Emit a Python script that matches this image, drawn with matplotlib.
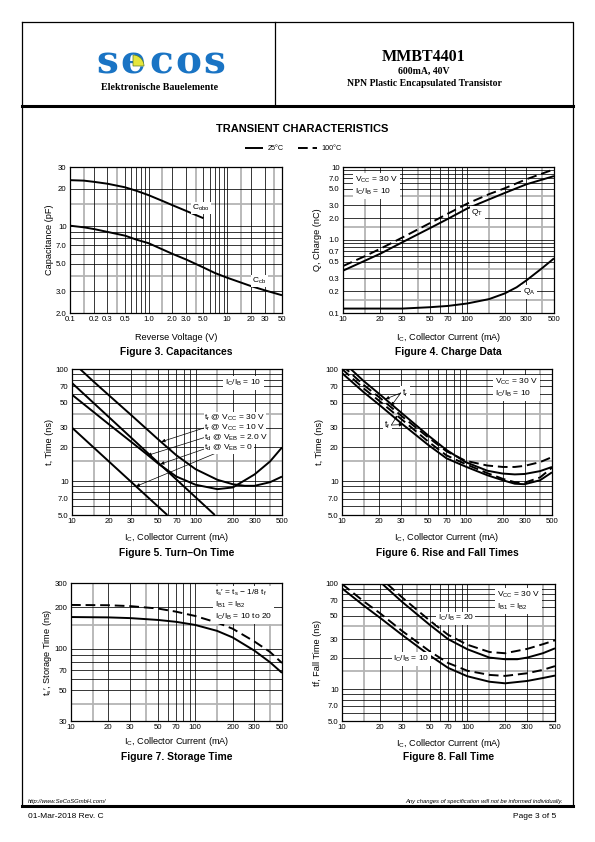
import numpy as np
import matplotlib
matplotlib.use('Agg')
import matplotlib.pyplot as plt
from matplotlib.patches import Wedge
from matplotlib.ticker import FixedLocator, FixedFormatter, NullLocator

plt.rcParams['font.family'] = ['Liberation Sans', 'DejaVu Sans']
plt.rcParams['mathtext.default'] = 'regular'

# Figure 3 - capacitances
v_cobo = [0.1, 0.15, 0.2, 0.3, 0.5, 0.7, 1.0, 1.5, 2.0, 3.0, 5.0]
c_cobo = [23.5, 23.3, 22.8, 22.0, 20.6, 19.3, 17.8, 16.0, 14.8, 13.3, 11.6]
v_ccb = [0.1, 0.15, 0.2, 0.3, 0.5, 0.7, 1.0, 2.0, 3.0, 5.0, 7.0, 10, 20, 30, 50]
c_ccb = [10.1, 9.8, 9.5, 9.0, 8.4, 7.8, 7.3, 6.0, 5.4, 4.65, 4.2, 3.85, 3.3, 3.05, 2.78]

# Figure 4 - charge data
ic_qt = [10, 15, 20, 30, 50, 70, 100, 150, 200, 300, 500]
qt_25 = [0.38, 0.52, 0.65, 0.93, 1.45, 1.95, 2.7, 3.6, 4.4, 5.8, 7.5]
qt_100 = [0.44, 0.6, 0.76, 1.08, 1.7, 2.3, 3.15, 4.25, 5.1, 6.8, 9.3]
ic_qa = [10, 20, 30, 50, 70, 100, 150, 200, 250, 300, 400, 500]
qa_25 = [0.115, 0.115, 0.115, 0.12, 0.125, 0.135, 0.155, 0.185, 0.225, 0.28, 0.41, 0.56]

# Figure 5 - turn-on time
ic_tr30 = [11.6, 15, 20, 30, 50, 70, 100, 150, 200, 250, 300, 400, 500]
tr_30v = [100, 77, 58, 39, 23.5, 17, 12.8, 10.3, 9.4, 9.1, 9.1, 9.8, 11]
ic_tr10 = [10, 20, 30, 40, 50, 70, 100, 150, 200, 300, 400, 500]
tr_10v = [59, 32, 22.5, 17.5, 14.3, 11, 9.3, 8.5, 8.8, 11.5, 15, 20]
ic_td2 = [10, 143]
td_2v = [75, 5]
ic_td0 = [10, 59]
td_0v = [30, 5]

# Figure 6 - rise and fall times
ic_rf = [10, 15, 20, 30, 50, 70, 100, 150, 200, 250, 300, 400, 500]
tr_25 = [118, 78, 60, 41, 25.5, 19, 14.8, 12.4, 11.7, 11.5, 11.6, 12.3, 13.4]
tr_100 = [108, 72, 56, 38.5, 24.5, 18.5, 15.2, 13.8, 13.4, 13.4, 13.7, 14.8, 16.4]
tf_100 = [100, 67, 52, 36, 22.5, 17, 14.2, 11.8, 10.5, 9.8, 9.7, 10.8, 13.2]
tf_25 = [92, 62, 48, 33, 21, 16, 13.5, 11.3, 10.2, 9.5, 9.4, 10.2, 12.0]

# Figure 7 - storage time
ic_ts = [10, 20, 30, 50, 70, 100, 150, 200, 300, 400, 500]
ts_25 = [170, 169, 167, 162, 157, 149, 135, 121, 97, 80, 67]
ts_100 = [208, 207, 204, 196, 186, 173, 155, 140, 113, 95, 79]

# Figure 8 - fall time
ic_f10 = [10, 15, 20, 30, 50, 70, 100, 150, 200, 300, 400, 500]
tf10_25 = [91, 62, 48, 33, 21, 16, 13.3, 11.8, 11.4, 12.0, 12.8, 13.5]
tf10_100 = [100, 68, 53, 36, 23, 17.8, 15.0, 13.7, 13.4, 14.2, 15.3, 16.6]
ic_f20_25 = [21, 30, 50, 70, 100, 150, 200, 250, 300, 400, 500]
tf20_25 = [100, 68, 41, 30, 24, 20, 19.3, 19.3, 20, 22, 24.5]
ic_f20_100 = [23, 30, 50, 70, 100, 150, 200, 300, 400, 500]
tf20_100 = [100, 75, 45, 33, 26.5, 22.6, 22, 24.2, 26.8, 29.2]

ic_ticks = [10, 20, 30, 50, 70, 100, 200, 300, 500]
ic_labels = ['10', '20', '30', '50', '70', '100', '200', '300', '500']
t_ticks = [5, 7, 10, 20, 30, 50, 70, 100]
t_labels = ['5.0', '7.0', '10', '20', '30', '50', '70', '100']

W, H = 595, 842
SOLID = dict(color='black', lw=1.4, solid_capstyle='butt')
DASH = dict(color='black', lw=1.4, ls=(0, (5, 2.5)))

fig = plt.figure(figsize=(W / 100, H / 100), dpi=100)
bg = fig.add_axes([0, 0, 1, 1])
bg.set_xlim(0, W)
bg.set_ylim(H, 0)
bg.axis('off')


def add_panel(x0, y0, x1, y1):
    return fig.add_axes([x0 / W, 1 - y1 / H, (x1 - x0) / W, (y1 - y0) / H])


def style_panel(ax, xlim, ylim, xticks, xlabels, yticks, ylabels):
    ax.set_xscale('log')
    ax.set_yscale('log')
    ax.set_xlim(*xlim)
    ax.set_ylim(*ylim)
    for (lo, hi), vline in ((xlim, True), (ylim, False)):
        line = ax.axvline if vline else ax.axhline
        for d in range(int(np.floor(np.log10(lo))), int(np.ceil(np.log10(hi))) + 1):
            for m in [1, 2, 3, 5, 6, 7, 8, 9]:
                v = m * 10.0 ** d
                if lo < v < hi:
                    line(v, color='black', lw=0.55, zorder=1)
            for m in [1.5, 4]:
                v = m * 10.0 ** d
                if lo < v < hi:
                    line(v, color='#b4b4b4', lw=1.3, zorder=0.9)
    ax.xaxis.set_major_locator(FixedLocator(xticks))
    ax.xaxis.set_major_formatter(FixedFormatter(xlabels))
    ax.yaxis.set_major_locator(FixedLocator(yticks))
    ax.yaxis.set_major_formatter(FixedFormatter(ylabels))
    ax.xaxis.set_minor_locator(NullLocator())
    ax.yaxis.set_minor_locator(NullLocator())
    ax.tick_params(length=0, labelsize=5.6, pad=2.5)
    for s in ax.spines.values():
        s.set_linewidth(0.9)


def labels(ax, ylabel, xlabel, caption, ylab_x, xlab_y, cap_y):
    pos = ax.get_position()
    cx = (pos.x0 + pos.x1) / 2 * W
    cy = (1 - (pos.y0 + pos.y1) / 2) * H
    bg.text(ylab_x, cy, ylabel, rotation=90, ha='center', va='center', fontsize=6.6)
    bg.text(cx, xlab_y, xlabel, ha='center', va='center', fontsize=6.6)
    bg.text(cx, cap_y, caption, ha='center', va='center', fontsize=7.4, fontweight='bold')


def box(ax, x, y, text):
    ax.text(x, y, text, transform=ax.transAxes, ha='left', va='top', fontsize=6,
            linespacing=1.25, zorder=5,
            bbox=dict(fc='white', ec='none', pad=1.5))


# ---- page frame ----
bg.plot([22, 573, 573, 22, 22], [22, 22, 806, 806, 22], color='black', lw=0.9)
bg.plot([22, 573], [106, 106], color='black', lw=2.2)
bg.plot([22, 573], [806, 806], color='black', lw=2.2)
bg.plot([275, 275], [22, 106], color='black', lw=0.9)

# logo, one letter at a time
for ch, lx in zip('secos', [107, 133, 161, 188, 214]):
    bg.text(lx, 74, ch, ha='center', va='baseline', fontsize=28, fontweight='bold',
            family='DejaVu Serif', color='#1a74c4')
bg.add_patch(Wedge((133, 66), 11, 270, 360, fc='#e6e63c', ec='#5a7a2a', lw=0.5, zorder=5))
bg.text(160, 87, 'Elektronische Bauelemente', ha='center', va='center', fontsize=7.2,
        fontweight='bold', family='Liberation Serif')

bg.text(424, 57, 'MMBT4401', ha='center', va='center', fontsize=11.5, fontweight='bold',
        family='Liberation Serif')
bg.text(424, 71, '600mA, 40V', ha='center', va='center', fontsize=7, fontweight='bold',
        family='Liberation Serif')
bg.text(424, 84, 'NPN Plastic Encapsulated Transistor', ha='center', va='center', fontsize=7,
        fontweight='bold', family='Liberation Serif')

bg.text(302, 129, 'TRANSIENT CHARACTERISTICS', ha='center', va='center', fontsize=8,
        fontweight='bold')
bg.plot([245, 263], [148, 148], **SOLID)
bg.text(268, 148, '25°C', ha='left', va='center', fontsize=5.2)
bg.plot([298, 317], [148, 148], **DASH)
bg.text(321, 148, '100°C', ha='left', va='center', fontsize=5.2)

# footer
bg.text(28, 802, 'http://www.SeCoSGmbH.com/', ha='left', va='center', fontsize=4.2, style='italic')
bg.text(563, 802, 'Any changes of specification will not be informed individually.', ha='right',
        va='center', fontsize=4.2, style='italic')
bg.text(28, 817, '01-Mar-2018 Rev. C', ha='left', va='center', fontsize=6)
bg.text(556, 817, 'Page 3 of 5', ha='right', va='center', fontsize=6)

# ---- Figure 3 ----
ax3 = add_panel(70, 167, 282, 313)
style_panel(ax3, (0.1, 50), (2, 30),
            [0.1, 0.2, 0.3, 0.5, 1, 2, 3, 5, 10, 20, 30, 50],
            ['0.1', '0.2', '0.3', '0.5', '1.0', '2.0', '3.0', '5.0', '10', '20', '30', '50'],
            [2, 3, 5, 7, 10, 20, 30], ['2.0', '3.0', '5.0', '7.0', '10', '20', '30'])
ax3.plot(v_cobo, c_cobo, zorder=3, **SOLID)
ax3.plot(v_ccb, c_ccb, zorder=3, **SOLID)
ax3.text(3.6, 14, 'C$_{obo}$', fontsize=6, ha='left', va='center', zorder=5,
         bbox=dict(fc='white', ec='none', pad=0.8))
ax3.text(21, 3.6, 'C$_{cb}$', fontsize=6, ha='left', va='center', zorder=5,
         bbox=dict(fc='white', ec='none', pad=0.8))
labels(ax3, 'Capacitance (pF)', 'Reverse Voltage (V)', 'Figure 3. Capacitances', 49, 337, 352)

# ---- Figure 4 ----
ax4 = add_panel(343, 167, 554, 313)
style_panel(ax4, (10, 500), (0.1, 10), ic_ticks, ic_labels,
            [0.1, 0.2, 0.3, 0.5, 0.7, 1, 2, 3, 5, 7, 10],
            ['0.1', '0.2', '0.3', '0.5', '0.7', '1.0', '2.0', '3.0', '5.0', '7.0', '10'])
ax4.plot(ic_qt, qt_25, zorder=3, **SOLID)
ax4.plot(ic_qt, qt_100, zorder=3, **DASH)
ax4.plot(ic_qa, qa_25, zorder=3, **SOLID)
ax4.text(108, 2.35, 'Q$_T$', fontsize=6, ha='left', va='center', zorder=5,
         bbox=dict(fc='white', ec='none', pad=1.2))
ax4.text(280, 0.194, 'Q$_A$', fontsize=6, ha='left', va='center', zorder=5,
         bbox=dict(fc='white', ec='none', pad=1.2))
box(ax4, 0.057, 0.945, 'V$_{CC}$ = 30 V\nI$_C$/I$_B$ = 10')
labels(ax4, 'Q, Charge (nC)', 'I$_C$, Collector Current (mA)', 'Figure 4. Charge Data', 318, 337, 352)

# ---- Figure 5 ----
ax5 = add_panel(72, 369, 282, 515)
style_panel(ax5, (10, 500), (5, 100), ic_ticks, ic_labels, t_ticks, t_labels)
ax5.plot(ic_tr30, tr_30v, zorder=3, **SOLID)
ax5.plot(ic_tr10, tr_10v, zorder=3, **SOLID)
ax5.plot(ic_td2, td_2v, zorder=3, **SOLID)
ax5.plot(ic_td0, td_0v, zorder=3, **SOLID)
box(ax5, 0.73, 0.94, 'I$_C$/I$_B$ = 10')
arrow_tips = [(53, 22.5), (41, 17), (52, 14.2), (33, 9.0)]
arrow_text = ['t$_r$ @ V$_{CC}$ = 30 V', 't$_r$ @ V$_{CC}$ = 10 V',
              't$_d$ @ V$_{EB}$ = 2.0 V', 't$_d$ @ V$_{EB}$ = 0']
for i, (tip, txt) in enumerate(zip(arrow_tips, arrow_text)):
    ax5.annotate(txt, xy=tip, xytext=(0.63, 0.664 - i * 0.068), textcoords='axes fraction',
                 ha='left', va='center', fontsize=6, zorder=5,
                 bbox=dict(fc='white', ec='none', pad=0.5),
                 arrowprops=dict(arrowstyle='-|>', lw=0.5, color='black',
                                 mutation_scale=5, shrinkA=0, shrinkB=0))
labels(ax5, 't, Time (ns)', 'I$_C$, Collector Current (mA)', 'Figure 5. Turn\u2013On Time', 50, 538, 553)

# ---- Figure 6 ----
ax6 = add_panel(342, 369, 552, 515)
style_panel(ax6, (10, 500), (5, 100), ic_ticks, ic_labels, t_ticks, t_labels)
ax6.plot(ic_rf, tr_25, zorder=3, **SOLID)
ax6.plot(ic_rf, tr_100, zorder=3, **DASH)
ax6.plot(ic_rf, tf_100, zorder=3, **DASH)
ax6.plot(ic_rf, tf_25, zorder=3, **SOLID)
box(ax6, 0.729, 0.945, 'V$_{CC}$ = 30 V\nI$_C$/I$_B$ = 10')
ax6.text(0.285, 0.836, 't$_r$', transform=ax6.transAxes, fontsize=6.5, ha='left', va='center',
         zorder=5, bbox=dict(fc='white', ec='none', pad=1))
ax6.text(0.2, 0.616, 't$_f$', transform=ax6.transAxes, fontsize=6.5, ha='left', va='center',
         zorder=5, bbox=dict(fc='white', ec='none', pad=1))
for tip in [(22.5, 54), (25, 47)]:
    ax6.annotate('', xy=tip, xytext=(0.28, 0.836), textcoords='axes fraction',
                 arrowprops=dict(arrowstyle='-|>', lw=0.5, color='black',
                                 mutation_scale=5, shrinkA=0, shrinkB=0), zorder=5)
for tip in [(28, 38.5), (31, 32)]:
    ax6.annotate('', xy=tip, xytext=(0.235, 0.616), textcoords='axes fraction',
                 arrowprops=dict(arrowstyle='-|>', lw=0.5, color='black',
                                 mutation_scale=5, shrinkA=0, shrinkB=0), zorder=5)
labels(ax6, 't, Time (ns)', 'I$_C$, Collector Current (mA)', 'Figure 6. Rise and Fall Times', 320, 538, 553)

# ---- Figure 7 ----
ax7 = add_panel(71, 583, 282, 721)
style_panel(ax7, (10, 500), (30, 300), ic_ticks, ic_labels,
            [30, 50, 70, 100, 200, 300], ['30', '50', '70', '100', '200', '300'])
ax7.plot(ic_ts, ts_25, zorder=3, **SOLID)
ax7.plot(ic_ts, ts_100, zorder=3, **DASH)
box(ax7, 0.682, 0.964, "t$_s$\u2032 = t$_s$ \u2212 1/8 t$_f$\nI$_{B1}$ = I$_{B2}$\nI$_C$/I$_B$ = 10 to 20")
labels(ax7, "t$_s$\u2032, Storage Time (ns)", 'I$_C$, Collector Current (mA)',
       'Figure 7. Storage Time', 47, 742, 757)

# ---- Figure 8 ----
ax8 = add_panel(342, 584, 555, 721)
style_panel(ax8, (10, 500), (5, 100), ic_ticks, ic_labels, t_ticks, t_labels)
ax8.plot(ic_f10, tf10_25, zorder=3, **SOLID)
ax8.plot(ic_f10, tf10_100, zorder=3, **DASH)
ax8.plot(ic_f20_25, tf20_25, zorder=3, **SOLID)
ax8.plot(ic_f20_100, tf20_100, zorder=3, **DASH)
box(ax8, 0.728, 0.956, 'V$_{CC}$ = 30 V\nI$_{B1}$ = I$_{B2}$')
ax8.text(58, 47.5, 'I$_C$/I$_B$ = 20', fontsize=6, ha='left', va='center', zorder=5,
         bbox=dict(fc='white', ec='none', pad=1))
ax8.text(25.5, 19.4, 'I$_C$/I$_B$ = 10', fontsize=6, ha='left', va='center', zorder=5,
         bbox=dict(fc='white', ec='none', pad=1))
labels(ax8, 'tf, Fall Time (ns)', 'I$_C$, Collector Current (mA)', 'Figure 8. Fall Time', 318, 744, 757)

fig.savefig('out.png', dpi=100)
